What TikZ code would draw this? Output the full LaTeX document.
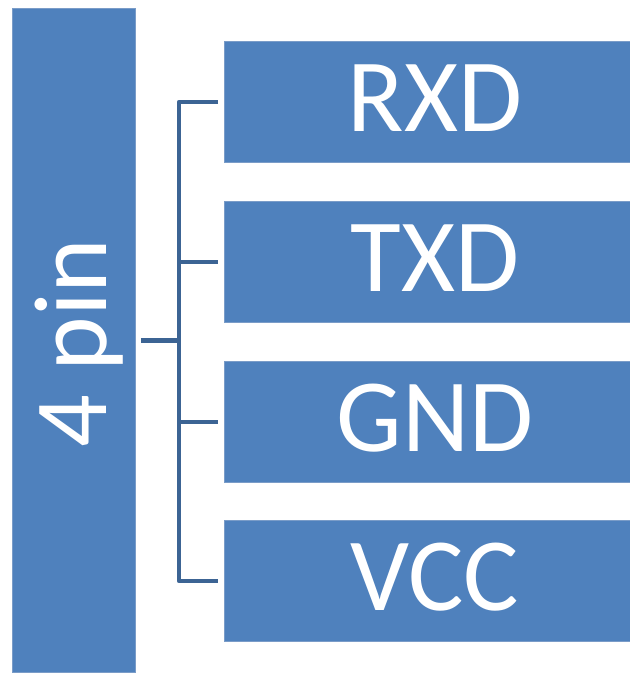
\documentclass[tikz,border=0pt]{standalone}
\usepackage{fontspec}
\setmainfont{Carlito}
\usetikzlibrary{positioning,calc}
\definecolor{pinblue}{HTML}{4F81BD}
\definecolor{pinedge}{HTML}{7A9CC8}
\definecolor{pinline}{HTML}{3C6494}
\tikzset{
  pinbox/.style={draw=pinedge, line width=0.6pt, fill=pinblue, text=white,
    font=\fontsize{78}{78}\selectfont, inner sep=0pt, anchor=north west},
  pinlabel/.style={pinbox, minimum width=315.75pt, minimum height=90.75pt},
  pintext/.style={text=white, font=\fontsize{78}{78}\selectfont, inner sep=0pt},
  bracket/.style={draw=pinline, line width=3.4pt, line join=round},
}

\begin{document}
\begin{tikzpicture}[x=0.75pt, y=-0.75pt]
  \useasboundingbox (0,0) rectangle (629,673);
  % linke Leiste
  \node[pinbox, minimum width=92.25pt, minimum height=498pt] (pinbar) at (12,8) {};
  \node[pintext, rotate=90] (pintxt) at ([xshift=3.75pt, yshift=-2pt]pinbar.center) {4 pin};
  % Anschluesse
  \node[pinlabel] (rxd) at (224,41)  {};
  \node[pinlabel] (txd) at (224,201) {};
  \node[pinlabel] (gnd) at (224,361) {};
  \node[pinlabel] (vcc) at (224,520) {};
  \foreach \n/\t in {rxd/RXD, txd/TXD, gnd/GND, vcc/VCC}
    \node[pintext] (\n txt) at ([yshift=3pt]\n.center) {\t};
  % Klammer
  \coordinate (spine) at (179,0);
  \draw[bracket] ([xshift=-4.5pt]rxd.west) -| (spine |- vcc.west) -- ([xshift=-4.5pt]vcc.west);
  \draw[bracket] (spine |- txd.west) -- ([xshift=-4.5pt]txd.west);
  \draw[bracket] (spine |- gnd.west) -- ([xshift=-4.5pt]gnd.west);
  \draw[bracket] ([xshift=3.75pt]pinbar.east) -- (spine |- pinbar.east);
\end{tikzpicture}
\end{document}
